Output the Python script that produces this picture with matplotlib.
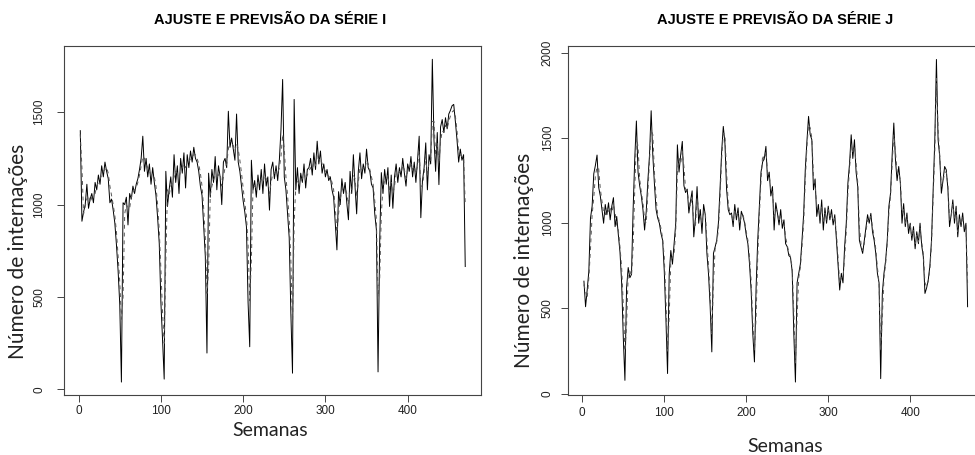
import numpy as np
import matplotlib.pyplot as plt

plt.rcParams['font.family'] = ['Liberation Sans', 'DejaVu Sans']

# semanas (de 2 em 2) e valores
semanas = np.arange(2, 471, 2)

serie_i = [
    1400, 910, 960, 1000, 1110, 980, 1030, 1060, 1010, 1120,
    1080, 1160, 1110, 1210, 1150, 1230, 1180, 1140, 1010, 1030,
    970, 900, 780, 640, 460, 40, 1010, 1000, 1040, 890,
    1060, 1030, 1100, 1060, 1110, 1140, 1190, 1250, 1370, 1180,
    1250, 1150, 1220, 1110, 1200, 1120, 1050, 930, 790, 470,
    270, 56, 1180, 990, 1080, 1150, 1040, 1270, 1120, 1210,
    1060, 1250, 1170, 1280, 1090, 1270, 1200, 1290, 1230, 1310,
    1250, 1230, 1180, 1100, 1050, 880, 720, 197, 1170, 1040,
    1190, 1120, 1260, 1080, 1210, 1150, 1000, 1230, 1250, 1200,
    1505, 1310, 1360, 1300, 1240, 1490, 1230, 1180, 1100, 1020,
    960, 880, 470, 231, 1240, 1080, 1130, 1040, 1160, 1080,
    1190, 1060, 1220, 1100, 1150, 970, 1190, 1230, 1140, 1210,
    1130, 1240, 1406, 1677, 1150, 1080, 950, 820, 413, 88,
    1569, 1080, 1200, 1060, 1170, 1120, 1220, 1090, 1190, 1200,
    1250, 1160, 1280, 1190, 1343, 1220, 1290, 1170, 1220, 1150,
    1190, 1130, 1150, 1080, 1040, 900, 755, 1070, 1000, 1140,
    1060, 1120, 1010, 918, 1180, 1060, 1270, 1100, 950, 1180,
    1280, 1140, 1220, 1170, 1300, 1200, 1180, 1110, 1090, 950,
    864, 95, 800, 1173, 1060, 1190, 1110, 1200, 990, 1160,
    980, 1150, 1220, 1120, 1200, 1150, 1250, 1170, 1100, 1220,
    1180, 1260, 1150, 1230, 1120, 1240, 1370, 929, 1130, 1200,
    1334, 1080, 1270, 1220, 1786, 1350, 1180, 1390, 1108, 1420,
    1460, 1390, 1470, 1410, 1490, 1510, 1535, 1542, 1450, 1350,
    1230, 1300, 1240, 1270, 665,
]
ajuste_i = [
    1380, 1200, 950, 990, 1030, 1050, 1010, 1040, 1050, 1060,
    1100, 1120, 1140, 1160, 1180, 1190, 1200, 1170, 1100, 1050,
    1000, 940, 850, 720, 580, 380, 500, 950, 1000, 980,
    980, 1040, 1060, 1080, 1090, 1120, 1160, 1210, 1260, 1250,
    1220, 1200, 1180, 1160, 1150, 1150, 1100, 1000, 860, 650,
    420, 250, 700, 1080, 1050, 1100, 1120, 1150, 1180, 1170,
    1150, 1180, 1200, 1220, 1200, 1220, 1230, 1250, 1260, 1270,
    1270, 1250, 1220, 1170, 1100, 980, 820, 520, 650, 1050,
    1100, 1130, 1160, 1150, 1160, 1170, 1100, 1150, 1200, 1220,
    1300, 1350, 1330, 1320, 1290, 1330, 1300, 1240, 1170, 1090,
    1010, 940, 780, 480, 700, 1100, 1100, 1090, 1120, 1110,
    1140, 1120, 1160, 1140, 1130, 1060, 1120, 1170, 1170, 1180,
    1170, 1200, 1260, 1380, 1300, 1150, 1050, 920, 700, 350,
    900, 1100, 1130, 1110, 1130, 1140, 1170, 1140, 1160, 1180,
    1200, 1190, 1230, 1210, 1270, 1240, 1250, 1220, 1200, 1180,
    1170, 1150, 1150, 1120, 1080, 980, 850, 950, 1030, 1080,
    1090, 1090, 1060, 1000, 1080, 1080, 1160, 1140, 1040, 1120,
    1200, 1190, 1200, 1190, 1240, 1220, 1190, 1150, 1110, 1020,
    920, 500, 600, 950, 1090, 1130, 1130, 1160, 1080, 1120,
    1060, 1100, 1170, 1160, 1180, 1170, 1210, 1190, 1140, 1180,
    1190, 1220, 1190, 1210, 1170, 1210, 1290, 1100, 1100, 1170,
    1260, 1150, 1230, 1230, 1450, 1450, 1270, 1330, 1220, 1340,
    1400, 1390, 1430, 1410, 1450, 1480, 1500, 1510, 1480, 1400,
    1290, 1270, 1260, 1260, 1000,
]

serie_j = [
    660, 510, 610, 720, 1030, 1100, 1290, 1340, 1400, 1210,
    1160, 1080, 1000, 1110, 1050, 1120, 1020, 1100, 1150, 980,
    1040, 930, 830, 650, 330, 78, 620, 740, 680, 700,
    1080, 1380, 1600, 1300, 1220, 1160, 1080, 960, 1070, 1250,
    1400, 1660, 1400, 1230, 1080, 1030, 1000, 940, 900, 720,
    440, 118, 700, 840, 760, 880, 1000, 1460, 1300, 1400,
    1480, 1220, 1180, 1200, 1060, 1130, 1190, 920, 1030, 1215,
    1000, 1080, 940, 1110, 1050, 823, 700, 510, 245, 823,
    860, 900, 1000, 1200, 1420, 1568, 1470, 1200, 1080, 1050,
    1060, 980, 1110, 1020, 1090, 960, 1070, 1040, 1000, 930,
    880, 760, 600, 350, 186, 620, 900, 1100, 1300, 1360,
    1380, 1451, 1250, 1300, 1160, 1215, 960, 1120, 1060, 990,
    1080, 970, 1020, 880, 862, 810, 800, 720, 355, 68,
    650, 706, 760, 900, 1050, 1313, 1480, 1627, 1520, 1490,
    1196, 1260, 1040, 1110, 1000, 1137, 960, 1090, 1000, 1100,
    1020, 1080, 990, 1050, 900, 750, 608, 706, 650, 862,
    1000, 1235, 1350, 1519, 1380, 1490, 1300, 1215, 900, 860,
    823, 900, 980, 1050, 1000, 1058, 950, 900, 823, 706,
    650, 88, 588, 706, 780, 900, 1100, 1176, 1400, 1588,
    1373, 1250, 1333, 1235, 1000, 1115, 980, 1060, 940, 1000,
    900, 980, 850, 950, 880, 1000, 870, 803, 588, 620,
    666, 750, 900, 1196, 1490, 1961, 1490, 1392, 1176, 1250,
    1333, 1313, 1200, 980, 1050, 1137, 1000, 1100, 920, 1050,
    980, 1060, 950, 1000, 510,
]
ajuste_j = [
    640, 600, 560, 680, 850, 1050, 1150, 1280, 1330, 1320,
    1200, 1130, 1060, 1050, 1090, 1070, 1090, 1060, 1110, 1060,
    990, 960, 860, 740, 520, 250, 400, 700, 720, 690,
    860, 1200, 1500, 1450, 1260, 1180, 1120, 1020, 1000, 1180,
    1350, 1550, 1520, 1300, 1150, 1050, 1010, 970, 910, 800,
    560, 250, 450, 780, 800, 820, 960, 1300, 1380, 1350,
    1420, 1330, 1200, 1190, 1120, 1100, 1160, 1000, 980, 1150,
    1080, 1040, 1000, 1060, 1070, 900, 750, 580, 350, 650,
    850, 890, 960, 1150, 1380, 1530, 1520, 1300, 1120, 1060,
    1050, 1010, 1070, 1040, 1060, 1000, 1040, 1050, 1010, 950,
    900, 800, 660, 420, 250, 450, 800, 1050, 1250, 1400,
    1370, 1420, 1300, 1280, 1200, 1200, 1040, 1080, 1070, 1010,
    1050, 1000, 1000, 920, 870, 830, 800, 740, 480, 180,
    450, 680, 740, 860, 1000, 1250, 1450, 1580, 1560, 1500,
    1280, 1220, 1100, 1080, 1030, 1100, 1000, 1060, 1020, 1080,
    1040, 1060, 1010, 1030, 940, 800, 650, 680, 680, 800,
    950, 1180, 1320, 1450, 1420, 1450, 1350, 1240, 980, 880,
    840, 880, 950, 1020, 1010, 1040, 980, 920, 850, 740,
    650, 250, 450, 680, 760, 880, 1060, 1160, 1350, 1520,
    1420, 1300, 1300, 1250, 1060, 1080, 1000, 1040, 970, 990,
    920, 960, 880, 930, 890, 970, 890, 820, 650, 630,
    660, 730, 880, 1150, 1420, 1850, 1550, 1400, 1220, 1240,
    1300, 1300, 1220, 1020, 1040, 1110, 1030, 1080, 950, 1030,
    990, 1040, 970, 990, 650,
]

W, H = 975, 455
fig = plt.figure(figsize=(W / 100, H / 100), dpi=100)

# posicoes em pixels: caixa (x0, x1, y_topo, y_base), limites, ticks,
# afastamento dos rotulos, centro do titulo, posicao de "Semanas" e do rotulo y
paineis = [
    (serie_i, ajuste_i, 'AJUSTE E PREVISÃO DA SÉRIE I', (64, 480.7, 46, 395),
     (-30, 1858), [0, 500, 1000, 1500], 8.5, 2, 270, (270, 430), (18, 251)),
    (serie_j, ajuste_j, 'AJUSTE E PREVISÃO DA SÉRIE J', (567.7, 983, 46, 395),
     (-8, 2040), [0, 500, 1000, 1500, 2000], 5, 4, 775, (785, 446), (524, 260)),
]

for (obs, fit, titulo, (x0, x1, yt, yb), ylim, yt_list, ypad, xpad,
     tit_x, (sx, sy), (lx, ly)) in paineis:
    ax = fig.add_axes([x0 / W, 1 - yb / H, (x1 - x0) / W, (yb - yt) / H])
    ax.plot(semanas, obs, color='black', lw=0.7)
    ax.plot(semanas, fit, color='#555555', lw=0.7, ls=(0, (4, 4)))
    ax.set_xlim(-17.8, 488.8)
    ax.set_ylim(*ylim)
    ax.set_xticks([0, 100, 200, 300, 400])
    ax.set_yticks(yt_list)
    for s in ax.spines.values():
        s.set_color('#444444')
        s.set_linewidth(0.8)
    ax.tick_params(axis='both', direction='out', length=5, width=0.7,
                   color='#444444', labelsize=8.5, labelcolor='#222222')
    ax.tick_params(axis='x', pad=xpad)
    ax.tick_params(axis='y', pad=ypad)
    for lb in ax.get_yticklabels():
        lb.set_rotation(90)
        lb.set_va('center')
    fig.text(tit_x / W, 1 - 20 / H, titulo, ha='center', va='center',
             fontsize=10.5, fontweight='bold')
    fig.text(sx / W, 1 - sy / H, 'Semanas', ha='center', va='center',
             fontsize=14, family=['Lato', 'DejaVu Sans'], color='#222222')
    fig.text(lx / W, 1 - ly / H, 'Número de internações',
             ha='center', va='center', rotation=90, fontsize=15,
             family=['Lato', 'DejaVu Sans'], color='#222222')

fig.savefig('out.png', dpi=100)
